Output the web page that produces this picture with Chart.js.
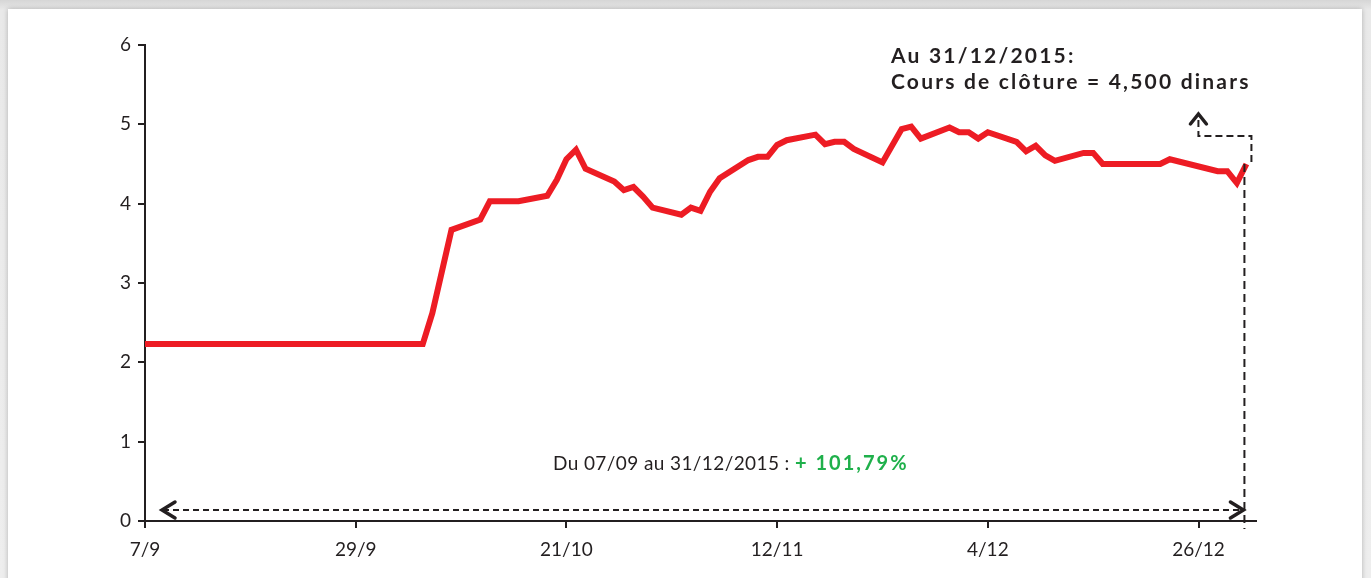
<!DOCTYPE html>
<html lang="fr">
<head>
<meta charset="UTF-8">
<title>Cours de clôture 2015</title>
<script src="https://cdn.jsdelivr.net/npm/chart.js"></script>
<style>
    html, body { margin: 0; padding: 0; }
    body {
        width: 1371px;
        height: 578px;
        overflow: hidden;
        position: relative;
        background: linear-gradient(#d6d6d6, #e9e9e9 10px, #eeeeee);
    }
    .panel {
        position: absolute;
        left: 8px;
        top: 9px;
        width: 1354px;
        height: 620px;
        background: #fff;
        box-shadow: 0 0 5px rgba(0, 0, 0, 0.25);
    }
    #priceChart {
        position: absolute;
        left: 0;
        top: 0;
    }
</style>
</head>
<body>
<div class="panel"></div>
<canvas id="priceChart" width="1371" height="578"></canvas>

<script>
    // séance -> cours (dinars)
    const dates = [
        '2015-09-07', '2015-10-06', '2015-10-07', '2015-10-09', '2015-10-12', '2015-10-13',
        '2015-10-16', '2015-10-19', '2015-10-20', '2015-10-21', '2015-10-22', '2015-10-23',
        '2015-10-26', '2015-10-27', '2015-10-28', '2015-10-29', '2015-10-30', '2015-11-02',
        '2015-11-03', '2015-11-04', '2015-11-05', '2015-11-06', '2015-11-09', '2015-11-10',
        '2015-11-11', '2015-11-12', '2015-11-13', '2015-11-16', '2015-11-17', '2015-11-18',
        '2015-11-19', '2015-11-20', '2015-11-23', '2015-11-25', '2015-11-26', '2015-11-27',
        '2015-11-30', '2015-12-01', '2015-12-02', '2015-12-03', '2015-12-04', '2015-12-07',
        '2015-12-08', '2015-12-09', '2015-12-10', '2015-12-11', '2015-12-14', '2015-12-15',
        '2015-12-16', '2015-12-22', '2015-12-23', '2015-12-28', '2015-12-29', '2015-12-30',
        '2015-12-31'
    ];
    const closes = [
        2.23, 2.23, 2.62, 3.67, 3.80, 4.03,
        4.03, 4.10, 4.30, 4.56, 4.68, 4.44,
        4.28, 4.17, 4.21, 4.09, 3.95, 3.86,
        3.95, 3.91, 4.15, 4.32, 4.55, 4.59,
        4.59, 4.74, 4.80, 4.87, 4.75, 4.78,
        4.78, 4.69, 4.52, 4.94, 4.97, 4.82,
        4.96, 4.90, 4.90, 4.82, 4.90, 4.78,
        4.66, 4.73, 4.61, 4.54, 4.64, 4.64,
        4.50, 4.50, 4.56, 4.41, 4.41, 4.26,
        4.50
    ];
    const xTickLabels = ['7/9', '29/9', '21/10', '12/11', '4/12', '26/12'];
    const yTicks = [0, 1, 2, 3, 4, 5, 6];
    const noteTitle = 'Au 31/12/2015:';
    const noteValue = 'Cours de clôture = 4,500 dinars';
    const periodText = 'Du 07/09 au 31/12/2015 : ';
    const periodPerf = '+ 101,79%';

    const DAY = 86400000;
    const start = Date.parse(dates[0]);
    const dayNumbers = dates.map(d => Math.round((Date.parse(d) - start) / DAY));
    const points = dayNumbers.map((d, i) => ({ x: d, y: closes[i] }));

    const ink = '#231f20';
    const tickFont = { family: 'Lato', size: 19 };

    function chevron(ctx, tipX, tipY, dir) {
        // dir: 'left' | 'right' | 'up'
        const a = 13, b = 8;
        ctx.beginPath();
        if (dir === 'left') {
            ctx.moveTo(tipX + a, tipY - b); ctx.lineTo(tipX, tipY); ctx.lineTo(tipX + a, tipY + b);
        } else if (dir === 'right') {
            ctx.moveTo(tipX - a, tipY - b); ctx.lineTo(tipX, tipY); ctx.lineTo(tipX - a, tipY + b);
        } else {
            ctx.moveTo(tipX - b, tipY + 10); ctx.lineTo(tipX, tipY); ctx.lineTo(tipX + b, tipY + 10);
        }
        ctx.stroke();
    }

    const notes = {
        id: 'notes',
        afterDraw(chart) {
            const { ctx, scales: { x, y } } = chart;
            const last = points[points.length - 1];
            const xEnd = x.getPixelForValue(last.x);
            const yEnd = y.getPixelForValue(last.y);
            const y0 = y.getPixelForValue(0);
            const xStart = x.getPixelForValue(0);

            ctx.save();
            ctx.strokeStyle = ink;
            ctx.lineWidth = 2;

            // flèche horizontale (période)
            const yArrow = y0 - 11;
            ctx.setLineDash([6, 4]);
            ctx.beginPath();
            ctx.moveTo(xStart + 18, yArrow);
            ctx.lineTo(xEnd - 4, yArrow);
            ctx.stroke();

            // verticale vers l'axe
            ctx.setLineDash([8, 5]);
            ctx.beginPath();
            ctx.moveTo(xEnd - 2, yEnd);
            ctx.lineTo(xEnd - 2, y0 + 8);
            ctx.stroke();

            // renvoi vers la note
            ctx.setLineDash([7, 4]);
            ctx.beginPath();
            ctx.moveTo(xEnd + 5, yEnd - 2);
            ctx.lineTo(xEnd + 5, yEnd - 28);
            ctx.lineTo(xEnd - 48, yEnd - 28);
            ctx.lineTo(xEnd - 48, yEnd - 44);
            ctx.stroke();

            ctx.setLineDash([]);
            ctx.lineWidth = 3.5;
            ctx.lineCap = 'round';
            chevron(ctx, xStart + 17, yArrow, 'left');
            chevron(ctx, xEnd - 3, yArrow, 'right');
            chevron(ctx, xEnd - 48, yEnd - 50, 'up');

            // textes
            ctx.fillStyle = ink;
            ctx.textBaseline = 'alphabetic';
            ctx.textAlign = 'left';
            ctx.font = 'bold 21px Lato';
            ctx.letterSpacing = '2.2px';
            ctx.fillText(noteTitle, 891, 63);
            ctx.fillText(noteValue, 891, 89);

            ctx.font = '19px Lato';
            ctx.letterSpacing = '0.4px';
            ctx.fillText(periodText, 553, 470);
            const w = ctx.measureText(periodText).width;
            ctx.fillStyle = '#1fb04b';
            ctx.font = 'bold 20px Lato';
            ctx.letterSpacing = '2px';
            ctx.fillText(periodPerf, 553 + w, 470);
            ctx.restore();
        }
    };

    new Chart(document.getElementById('priceChart'), {
        type: 'line',
        data: {
            datasets: [{
                data: points,
                borderColor: '#ed1c24',
                borderWidth: 6,
                pointRadius: 0,
                tension: 0,
                fill: false
            }]
        },
        options: {
            responsive: false,
            animation: false,
            layout: { padding: { left: 0, right: 115, top: 45, bottom: 0 } },
            plugins: {
                legend: { display: false },
                tooltip: { enabled: false }
            },
            scales: {
                x: {
                    type: 'linear',
                    min: 0,
                    max: 116,
                    afterFit: s => { s.height = 57; },
                    border: { color: ink, width: 2 },
                    grid: { drawOnChartArea: false, color: ink, lineWidth: 2, tickLength: 7 },
                    ticks: {
                        stepSize: 22,
                        includeBounds: false,
                        autoSkip: false,
                        maxRotation: 0,
                        padding: 10,
                        color: ink,
                        font: tickFont,
                        callback: v => xTickLabels[v / 22]
                    }
                },
                y: {
                    min: yTicks[0],
                    max: yTicks[yTicks.length - 1],
                    afterFit: s => { s.width = 145; },
                    border: { color: ink, width: 2 },
                    grid: { drawOnChartArea: false, color: ink, lineWidth: 2, tickLength: 7 },
                    ticks: {
                        stepSize: 1,
                        padding: 7,
                        color: ink,
                        font: tickFont
                    }
                }
            }
        },
        plugins: [notes]
    });
</script>
</body>
</html>
